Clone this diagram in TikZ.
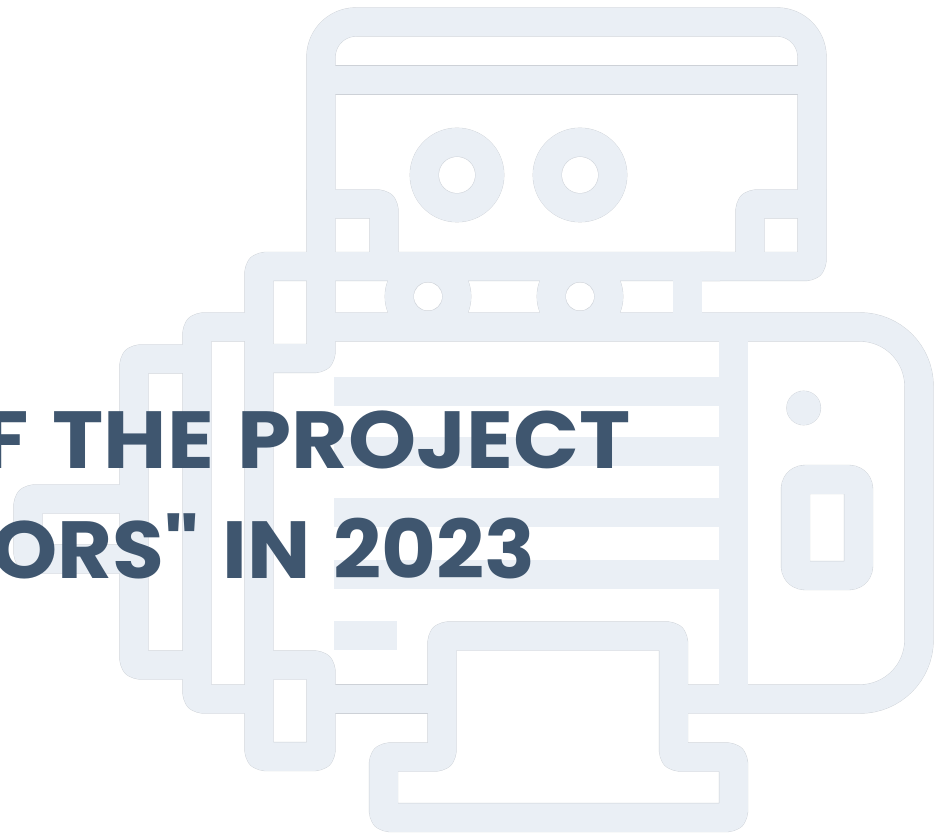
\documentclass[tikz,border=0pt]{standalone}
\usepackage{fontspec}
\newfontfamily\ttlfontA{Poppins}[FakeStretch=1.07,WordSpace=1.3]
\newfontfamily\ttlfontB{Poppins}[FakeStretch=1.04,WordSpace=1.3]
\definecolor{iconfill}{HTML}{EAEFF5}
\definecolor{iconedge}{HTML}{CDD1D7}
\definecolor{titleblue}{HTML}{3F566F}
\newcommand{\motorshape}[2]{%
 \begin{scope}[draw=#1,line width=#2pt,line join=round,rounded corners=5.5pt]
 % upper housing
 \draw[rounded corners=35pt] (321,200) -- (321,22) -- (812,22) -- (812,200);
 \draw (812,190) -- (812,266.5) -- (700,266.5);
 \draw (321,80) -- (812,80);
 \draw (321,204) -- (384,204) -- (384,266);
 \draw (812,204) -- (750,204) -- (750,266);
 \draw (720,266.5) -- (259,266.5) -- (259,756.5) -- (321,756.5) -- (321,665) -- (259,665);
 \draw (321,190) -- (321,358.5) -- (259,358.5);
 \draw (687.5,266) -- (687.5,327);
 % stepped end caps
 \draw (259,327) -- (197,327) -- (197,699) -- (259,699);
 \draw (197,359) -- (134,359) -- (134,665) -- (197,665);
 \draw (134,499) -- (28,499) -- (28,559) -- (134,559);
 % main body
 \draw[rounded corners=59pt] (321,327) -- (919,327) -- (919,699) -- (673.5,699);
 \draw (321,699) -- (442,699);
 \draw (733.5,327) -- (733.5,699);
 % foot
 \draw (560,636) -- (442,636) -- (442,757) -- (383.5,757) -- (383.5,817.5) -- (733.5,817.5) -- (733.5,757) -- (673.5,757) -- (673.5,636) -- (550,636);
 % panel
 \draw[rounded corners=9pt] (827,479.5) -- (858.5,479.5) -- (858.5,575.5) -- (795.5,575.5) -- (795.5,479.5) -- (835,479.5);
 \end{scope}
}
\newcommand{\motorbars}[2]{%
 \foreach \yy in {391.5,451.5,512.5,574.5}
   \fill[#1] ({334-#2},{\yy-14.25-#2}) rectangle (725,{\yy+14.25+#2});
 \fill[#1] ({334-#2},{621-#2}) rectangle ({397+#2},{650+#2});
 \foreach \xx/\yy/\rr in {457/175/47,580/175/47,428/296.5/43,580/296.5/43,803.7/408/17}
   \fill[#1] (\xx,\yy) circle[radius={\rr+#2}];
}
\begin{document}
\begin{tikzpicture}[x=1pt,y=-1pt]
\useasboundingbox (0,0) rectangle (938,834);
\fill[white] (0,0) rectangle (938,834);
\motorshape{iconedge}{29.3}
\motorbars{iconedge}{0.35}
\motorshape{iconfill}{28.5}
\motorbars{iconfill}{0}
\foreach \xx/\yy/\rr in {457/175/18.5,580/175/18.5,428/296.5/14.5,580/296.5/14.5}{
  \fill[iconedge] (\xx,\yy) circle[radius=\rr];
  \fill[white] (\xx,\yy) circle[radius={\rr-0.5}];
}
\begin{scope}
\clip (0,0) rectangle (938,834);
\node[anchor=base east,inner sep=0pt,text=titleblue,font={\ttlfontA\bfseries\fontsize{81}{90}\selectfont}] (lineone) at (631,468) {F THE PROJECT};
\node[anchor=base east,inner sep=0pt,text=titleblue,font={\ttlfontB\bfseries\fontsize{81}{90}\selectfont}] (linetwo) at (536,578) {ORS" IN 2023};
\end{scope}
\end{tikzpicture}
\end{document}
